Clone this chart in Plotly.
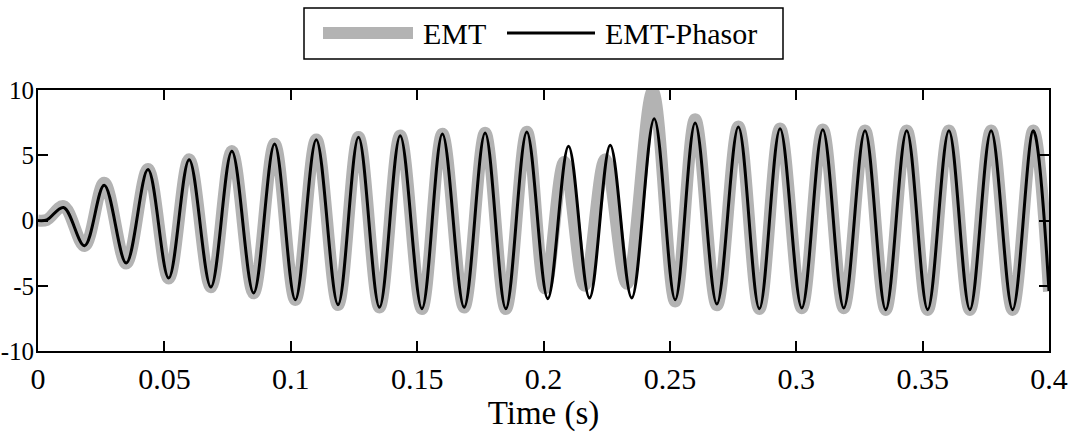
import plotly.graph_objects as go

# EMT-Phasor waveform: turning points (time in s, value)
t_phasor = [0.0, 0.0035, 0.0101, 0.0184, 0.0262, 0.0349, 0.0435, 0.0517, 0.0598, 0.0684,
            0.0767, 0.0853, 0.0936, 0.1018, 0.1101, 0.1187, 0.1268, 0.1351, 0.1433, 0.1519,
            0.1600, 0.1686, 0.1769, 0.1851, 0.1934, 0.2017, 0.2099, 0.2182, 0.2264, 0.2349,
            0.2438, 0.2521, 0.2600, 0.2686, 0.2771, 0.2854, 0.2936, 0.3022, 0.3105, 0.3188,
            0.3272, 0.3354, 0.3437, 0.3520, 0.3604, 0.3687, 0.3771, 0.3856, 0.3938, 0.4000]
v_phasor = [0.0, 0.05, 1.0, -1.93, 2.70, -3.26, 3.90, -4.41, 4.66, -5.10,
            5.30, -5.56, 5.86, -6.07, 6.19, -6.45, 6.37, -6.65, 6.50, -6.76,
            6.63, -6.65, 6.70, -6.76, 6.78, -5.99, 5.69, -5.94, 5.76, -5.94,
            7.80, -6.07, 7.47, -6.40, 7.16, -6.76, 7.03, -6.70, 6.96, -6.70,
            6.88, -6.83, 6.88, -6.83, 6.88, -6.83, 6.88, -6.83, 6.88, -5.40]

# EMT waveform: turning points (time in s, value)
t_emt = [0.0, 0.0035, 0.0101, 0.0184, 0.0262, 0.0349, 0.0435, 0.0517, 0.0598, 0.0684,
         0.0767, 0.0853, 0.0936, 0.1018, 0.1101, 0.1187, 0.1268, 0.1351, 0.1433, 0.1519,
         0.1600, 0.1686, 0.1769, 0.1851, 0.1934, 0.2006, 0.2082, 0.2162, 0.2244, 0.2330,
         0.2432, 0.2521, 0.2600, 0.2686, 0.2771, 0.2854, 0.2936, 0.3022, 0.3105, 0.3188,
         0.3272, 0.3354, 0.3437, 0.3520, 0.3604, 0.3687, 0.3771, 0.3856, 0.3938, 0.4000]
v_emt = [0.0, 0.05, 1.10, -1.95, 2.90, -3.30, 3.95, -4.45, 4.70, -5.12,
         5.32, -5.58, 5.88, -6.09, 6.21, -6.47, 6.39, -6.67, 6.52, -6.78,
         6.65, -6.67, 6.72, -6.78, 6.80, -5.20, 4.50, -5.00, 4.70, -4.85,
         9.90, -6.20, 7.75, -6.50, 7.20, -6.78, 7.05, -6.72, 6.98, -6.72,
         6.90, -6.85, 6.90, -6.85, 6.90, -6.85, 6.90, -6.85, 6.90, -5.45]

x_ticks = [0, 0.05, 0.1, 0.15, 0.2, 0.25, 0.3, 0.35, 0.4]
y_ticks = [-10, -5, 0, 5, 10]
y_tick_text = ["-10", "-5", "0", "5", "10"]

FONT = "Liberation Serif, Times New Roman, serif"
GRAY = "rgb(179,179,179)"
W, H = 1073, 433
ML, MR, MT, MB = 38, 24, 90, 82


def px(x):
    return (x - ML) / (W - ML - MR)


def py(y):
    return (H - MB - y) / (H - MT - MB)


fig = go.Figure()
fig.add_trace(go.Scatter(x=t_emt, y=v_emt, mode="lines", name="EMT",
                         line=dict(color=GRAY, width=12, shape="spline", smoothing=1.0),
                         showlegend=False))
fig.add_trace(go.Scatter(x=t_phasor, y=v_phasor, mode="lines", name="EMT-Phasor",
                         line=dict(color="black", width=3, shape="spline", smoothing=1.0),
                         showlegend=False))

# legend box drawn above the axes
shapes = [
    dict(type="rect", xref="paper", yref="paper", x0=px(304), x1=px(783), y0=py(59), y1=py(8),
         line=dict(color="black", width=1.5), fillcolor="white"),
    dict(type="line", xref="paper", yref="paper", x0=px(323), x1=px(413), y0=py(33), y1=py(33),
         line=dict(color=GRAY, width=12)),
    dict(type="line", xref="paper", yref="paper", x0=px(507), x1=px(595), y0=py(33), y1=py(33),
         line=dict(color="black", width=3)),
]
annotations = [
    dict(text="EMT", xref="paper", yref="paper", x=px(421), y=py(34), xanchor="left",
         yanchor="middle", showarrow=False, font=dict(family=FONT, size=30, color="black")),
    dict(text="EMT-Phasor", xref="paper", yref="paper", x=px(603), y=py(34), xanchor="left",
         yanchor="middle", showarrow=False, font=dict(family=FONT, size=30, color="black")),
]

axis_common = dict(showline=True, linecolor="black", linewidth=2, mirror="ticks",
                   ticks="inside", ticklen=10, tickwidth=1.5, tickcolor="black",
                   showgrid=False, zeroline=False)

fig.update_layout(
    width=W, height=H,
    margin=dict(l=ML, r=MR, t=MT, b=MB, autoexpand=False),
    paper_bgcolor="white", plot_bgcolor="white",
    shapes=shapes, annotations=annotations,
    xaxis=dict(range=[0, 0.4], tickvals=x_ticks, automargin=False,
               tickfont=dict(family=FONT, size=30, color="black"),
               title=dict(text="Time (s)", font=dict(family=FONT, size=33, color="black"),
                          standoff=2),
               **axis_common),
    yaxis=dict(range=[-10, 10], tickvals=y_ticks, ticktext=y_tick_text, automargin=False,
               tickfont=dict(family=FONT, size=25, color="black"),
               ticklabelstandoff=-3, **axis_common),
)

fig.write_html("out.html")
